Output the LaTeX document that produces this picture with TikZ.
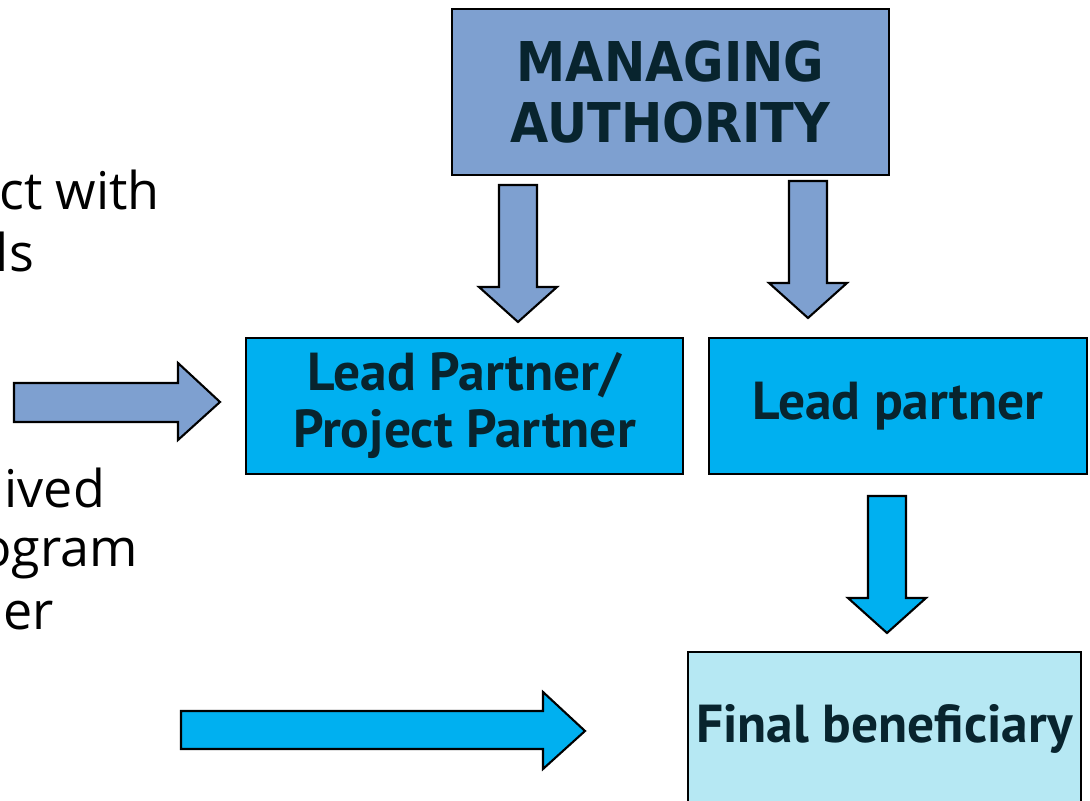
\documentclass[tikz,border=0pt]{standalone}
\usepackage{fontspec}
\setmainfont{Open Sans}
\newfontfamily\boxfont{PT Sans}
\newfontfamily\headfont{DejaVu Sans Condensed}
\definecolor{mablue}{RGB}{126,160,208}
\definecolor{lpcyan}{RGB}{0,176,240}
\definecolor{fbcyan}{RGB}{182,232,243}
\definecolor{inkdark}{RGB}{8,36,46}

\begin{document}
\begin{tikzpicture}[x=0.01cm, y=-0.01cm, line width=0.6pt,
    box/.style={draw=black, text=inkdark, align=center, inner sep=0pt},
    sidetext/.style={anchor=base east, inner sep=0pt, font=\fontsize{14.8}{17}\selectfont}]
  \clip (0,0) rectangle (1090,801);
  \fill[white] (0,0) rectangle (1090,801);

  % left text, cut off at the edge
  \node[sidetext] (t1) at (161,210) {ct with};
  \node[sidetext] (t2) at (35,272) {ls};
  \node[sidetext] (t3) at (106,508) {ived};
  \node[sidetext] (t4) at (139,567) {ogram};
  \node[sidetext] (t5) at (55,630) {er};

  % boxes
  \node[box, fill=mablue, minimum width=4.37cm, minimum height=1.66cm,
    font=\headfont\bfseries\fontsize{15.6}{17.6}\selectfont] (ma) at (670.5,92) {MANAGING\\AUTHORITY};
  \node[box, fill=lpcyan, minimum width=4.37cm, minimum height=1.36cm,
    font=\boxfont\bfseries\fontsize{15.2}{16.2}\selectfont] (lpp) at (464.5,406) {Lead Partner/\\Project Partner};
  \node[box, fill=lpcyan, minimum width=3.78cm, minimum height=1.36cm,
    font=\boxfont\bfseries\fontsize{15.2}{16.2}\selectfont] (lp) at (898,406) {Lead partner};
  \node[box, fill=fbcyan, minimum width=3.93cm, minimum height=1.53cm,
    font=\boxfont\bfseries\fontsize{15.2}{16.2}\selectfont] (fb) at (884.5,728.5) {Final beneficiary};

  % block arrows
  \foreach \cx/\top/\col in {518/185/mablue, 808/181/mablue, 887/496/lpcyan} {
    \draw[fill=\col] (\cx-19,\top) -- ++(38,0) -- ++(0,102) -- ++(20,0)
      -- ++(-39,35) -- ++(-39,-35) -- ++(20,0) -- cycle;
  }
  \draw[fill=mablue] (14,383) -- (178,383) -- (178,363) -- (220,402)
    -- (178,440) -- (178,422) -- (14,422) -- cycle;
  \draw[fill=lpcyan] (181,711) -- (543,711) -- (543,692) -- (585,731)
    -- (543,769) -- (543,749) -- (181,749) -- cycle;
\end{tikzpicture}
\end{document}
